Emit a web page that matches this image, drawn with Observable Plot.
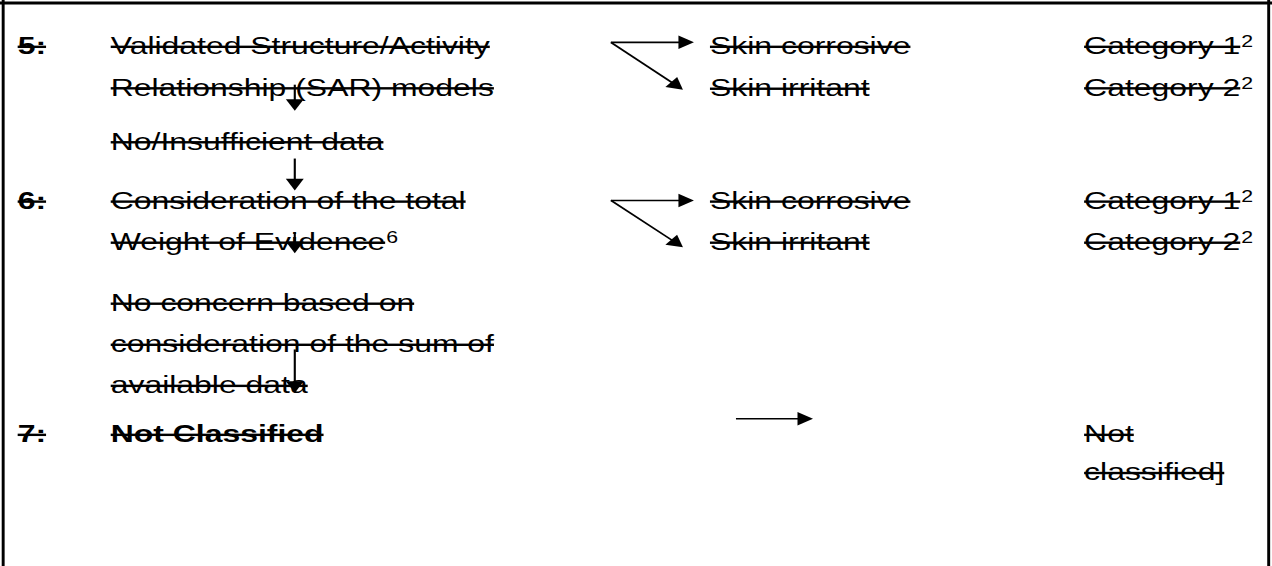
<!DOCTYPE html>
<html><head><meta charset="utf-8">
<script src="https://cdn.jsdelivr.net/npm/d3@7"></script>
<script src="https://cdn.jsdelivr.net/npm/@observablehq/plot@0.6"></script>
<style>
html,body{margin:0;padding:0;background:#fff;}
#chart svg text{ text-decoration: line-through; }
#chart svg g[font-size="16"] text{ text-decoration: none; }
</style></head><body><div id="chart"></div>
<script>
// ---- data: flow-chart content (column name, document line) ----
const stepLabels = [
  {col: "step", line: 0,    text: "5:"},
  {col: "step", line: 3.73, text: "6:"},
  {col: "step", line: 9.35, text: "7:"}
];
const criteriaLines = [
  {col: "criterion", line: 0,    text: "Validated Structure/Activity"},
  {col: "criterion", line: 1,    text: "Relationship (SAR) models"},
  {col: "criterion", line: 2.3,  text: "No/Insufficient data"},
  {col: "criterion", line: 3.73, text: "Consideration of the total"},
  {col: "criterion", line: 4.72, text: "Weight of Evidence", sup: "6"},
  {col: "criterion", line: 6.19, text: "No concern based on"},
  {col: "criterion", line: 7.18, text: "consideration of the sum of"},
  {col: "criterion", line: 8.17, text: "available data"}
];
const finalLabel = [{col: "criterion", line: 9.35, text: "Not Classified"}];
const outcomes = [
  {col: "result", line: 0,    text: "Skin corrosive"},
  {col: "result", line: 1.01, text: "Skin irritant"},
  {col: "result", line: 3.73, text: "Skin corrosive"},
  {col: "result", line: 4.72, text: "Skin irritant"}
];
const categories = [
  {col: "category", line: 0,     text: "Category 1", sup: "2"},
  {col: "category", line: 1,     text: "Category 2", sup: "2"},
  {col: "category", line: 3.73,  text: "Category 1", sup: "2"},
  {col: "category", line: 4.72,  text: "Category 2", sup: "2"},
  {col: "category", line: 9.35,  text: "Not"},
  {col: "category", line: 10.27, text: "classified]"}
];
// arrows: from (x1,line1) to tip (x2,line2)
const flowArrows = [
  {x1: 294, y1: 0.92, x2: 294, y2: 1.55},
  {x1: 294, y1: 2.7,  x2: 294, y2: 3.47},
  {x1: 294, y1: 4.48, x2: 294, y2: 4.98},
  {x1: 294, y1: 7.3,  x2: 294, y2: 8.35},
  {x1: 610, y1: -0.1, x2: 693, y2: -0.1},
  {x1: 610, y1: -0.1, x2: 682, y2: 1.04},
  {x1: 610, y1: 3.71, x2: 693, y2: 3.71},
  {x1: 610, y1: 3.71, x2: 682, y2: 4.84},
  {x1: 735, y1: 8.97, x2: 812, y2: 8.97}
];

// ---- layout ----
const columnX = {step: 17, criterion: 110, result: 709, category: 1083};
const stretch = 1.33;             // horizontal stretch of the source picture
const W = 1272, H = 566;
const W0 = W / stretch;
const lineTop = 46, linePx = 41.5;
const fontSize = 24, supSize = 16;
const headR = 5, headTip = 1.555 * headR;
const font = "'Liberation Sans', Arial, Helvetica, sans-serif";

// text measurement for superscript placement
const ctx = document.createElement("canvas").getContext("2d");
ctx.font = `${fontSize}px ${font}`;
const textWidth = s => ctx.measureText(s).width * stretch;

const allText = [...criteriaLines, ...categories];
const superscripts = allText.filter(d => d.sup).map(d => ({
  x: columnX[d.col] + textWidth(d.text) + 1,
  line: d.line - 0.1,
  text: d.sup
}));

const heads = flowArrows.map(a => {
  const dx = (a.x2 - a.x1) / stretch, dy = (a.y2 - a.y1) * linePx;
  const len = Math.hypot(dx, dy), ux = dx / len, uy = dy / len;
  return {
    x: a.x2 - ux * headTip * stretch,
    y: a.y2 - uy * headTip / linePx,
    x1: a.x1, y1: a.y1,
    angle: Math.atan2(ux, -uy) * 180 / Math.PI
  };
});

const textOpts = {
  x: d => columnX[d.col], y: "line", text: "text",
  textAnchor: "start", fontSize, fill: "black", fontFamily: font
};

const svg = Plot.plot({
  width: Math.round(W0), height: H,
  marginTop: 0, marginRight: 0, marginBottom: 0, marginLeft: 0,
  x: {domain: [0, W], range: [0, W0], axis: null},
  y: {domain: [0, 10], range: [lineTop, lineTop + 10 * linePx], axis: null},
  style: {fontFamily: font, background: "white", overflow: "visible"},
  marks: [
    Plot.ruleX([2.5], {stroke: "black", strokeWidth: 2.2}),
    Plot.ruleX([1267.5], {stroke: "black", strokeWidth: 2.2}),
    Plot.ruleY([-1.05], {stroke: "black", strokeWidth: 3}),
    Plot.link(heads, {x1: "x1", y1: "y1", x2: "x", y2: "y", stroke: "black", strokeWidth: 1.6}),
    Plot.dot(heads, {x: "x", y: "y", symbol: "triangle", r: headR, fill: "black", stroke: "none", rotate: "angle"}),
    Plot.text(criteriaLines, textOpts),
    Plot.text(outcomes, textOpts),
    Plot.text(categories, textOpts),
    Plot.text(stepLabels, {...textOpts, fontWeight: "bold"}),
    Plot.text(finalLabel, {...textOpts, fontWeight: "bold"}),
    Plot.text(superscripts, {x: "x", y: "line", text: "text", textAnchor: "start",
      fontSize: supSize, fill: "black", fontFamily: font})
  ]
});
svg.setAttribute("width", W);
svg.setAttribute("height", H);
svg.setAttribute("preserveAspectRatio", "none");
svg.style.width = W + "px";
svg.style.height = H + "px";
svg.style.maxWidth = "none";
document.getElementById("chart").appendChild(svg);
</script></body></html>
